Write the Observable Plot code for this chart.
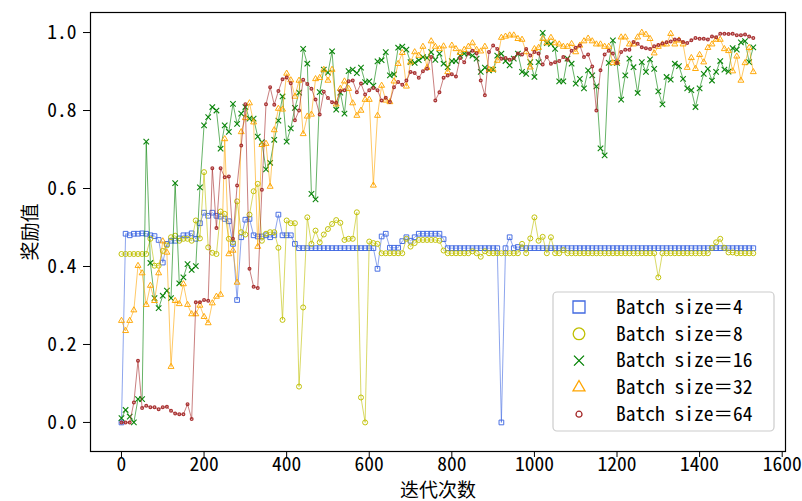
<!DOCTYPE html>
<html><head><meta charset="utf-8">
<script src="https://cdn.jsdelivr.net/npm/d3@7"></script>
<script src="https://cdn.jsdelivr.net/npm/@observablehq/plot@0.6"></script>
<style>body{margin:0;background:#fff;}</style>
</head><body><div id="chart"></div>
<script>
const iterations = [
0,10,20,30,40,50,60,70,80,90,100,110,120,130,140,150,160,170,180,190,
200,210,220,230,240,250,260,270,280,290,300,310,320,330,340,350,360,370,380,390,
400,410,420,430,440,450,460,470,480,490,500,510,520,530,540,550,560,570,580,590,
600,610,620,630,640,650,660,670,680,690,700,710,720,730,740,750,760,770,780,790,
800,810,820,830,840,850,860,870,880,890,900,910,920,930,940,950,960,970,980,990,
1000,1010,1020,1030,1040,1050,1060,1070,1080,1090,1100,1110,1120,1130,1140,1150,1160,1170,1180,1190,
1200,1210,1220,1230,1240,1250,1260,1270,1280,1290,1300,1310,1320,1330,1340,1350,1360,1370,1380,1390,
1400,1410,1420,1430,1440,1450,1460,1470,1480,1490,1500,1510,1520,1530];

const b4 = [
0.0,0.484,0.48,0.484,0.484,0.485,0.484,0.48,0.478,0.468,
0.41,0.458,0.466,0.466,0.472,0.48,0.48,0.485,0.471,0.511,
0.538,0.53,0.538,0.53,0.528,0.522,0.516,0.458,0.314,0.475,
0.52,0.522,0.48,0.477,0.477,0.48,0.475,0.48,0.533,0.48,
0.48,0.48,0.458,0.447,0.447,0.447,0.447,0.447,0.447,0.447,
0.447,0.447,0.447,0.447,0.447,0.447,0.447,0.447,0.447,0.447,
0.447,0.447,0.394,0.477,0.484,0.448,0.448,0.448,0.465,0.475,
0.466,0.475,0.484,0.484,0.484,0.484,0.484,0.484,0.47,0.447,
0.447,0.447,0.447,0.447,0.447,0.447,0.447,0.447,0.447,0.447,
0.447,0.447,0.0,0.447,0.475,0.447,0.45,0.447,0.447,0.447,
0.447,0.447,0.447,0.447,0.447,0.447,0.447,0.447,0.447,0.447,
0.447,0.447,0.447,0.447,0.447,0.447,0.447,0.447,0.447,0.447,
0.447,0.447,0.447,0.447,0.447,0.447,0.447,0.447,0.447,0.447,
0.447,0.447,0.447,0.447,0.447,0.447,0.447,0.447,0.447,0.447,
0.447,0.447,0.447,0.447,0.447,0.447,0.447,0.447,0.447,0.447,
0.447,0.447,0.447,0.447];

const b8 = [
0.432,0.432,0.432,0.432,0.432,0.432,0.432,0.471,0.402,0.402,
0.44,0.454,0.475,0.479,0.466,0.471,0.471,0.466,0.518,0.472,
0.642,0.449,0.435,0.432,0.541,0.535,0.471,0.462,0.567,0.488,
0.482,0.533,0.593,0.612,0.466,0.484,0.488,0.488,0.448,0.263,
0.518,0.511,0.511,0.092,0.295,0.526,0.458,0.492,0.462,0.482,
0.496,0.509,0.519,0.512,0.468,0.471,0.471,0.539,0.064,0.0,
0.464,0.46,0.458,0.434,0.434,0.434,0.434,0.434,0.434,0.471,
0.451,0.46,0.468,0.468,0.468,0.468,0.468,0.466,0.441,0.434,
0.434,0.434,0.434,0.434,0.434,0.439,0.434,0.425,0.439,0.434,
0.434,0.434,0.434,0.434,0.434,0.434,0.434,0.458,0.434,0.472,
0.526,0.466,0.476,0.434,0.475,0.434,0.434,0.442,0.434,0.434,
0.434,0.434,0.434,0.434,0.434,0.434,0.434,0.434,0.434,0.434,
0.434,0.434,0.434,0.434,0.434,0.434,0.434,0.434,0.434,0.434,
0.372,0.434,0.434,0.434,0.434,0.434,0.434,0.434,0.434,0.434,
0.434,0.434,0.434,0.448,0.462,0.471,0.448,0.436,0.436,0.434,
0.434,0.434,0.434,0.434];

const b16 = [
0.011,0.032,0.015,0.0,0.06,0.06,0.72,0.409,0.319,0.293,
0.325,0.338,0.319,0.614,0.357,0.372,0.406,0.391,0.401,0.603,
0.762,0.783,0.809,0.8,0.702,0.762,0.745,0.817,0.766,0.792,
0.809,0.779,0.779,0.733,0.719,0.649,0.666,0.725,0.774,0.836,
0.72,0.754,0.807,0.846,0.958,0.92,0.586,0.572,0.847,0.905,
0.897,0.952,0.802,0.846,0.792,0.901,0.905,0.896,0.91,0.873,
0.875,0.864,0.926,0.929,0.95,0.89,0.893,0.961,0.964,0.956,
0.924,0.922,0.929,0.937,0.935,0.95,0.93,0.946,0.92,0.911,
0.927,0.927,0.941,0.946,0.946,0.941,0.933,0.899,0.91,0.903,
0.905,0.941,0.946,0.927,0.916,0.933,0.946,0.899,0.894,0.924,
0.886,0.924,0.999,0.973,0.971,0.958,0.875,0.875,0.933,0.92,
0.869,0.881,0.857,0.903,0.89,0.862,0.703,0.685,0.922,0.98,
0.922,0.828,0.89,0.933,0.911,0.845,0.924,0.899,0.931,0.907,
0.849,0.816,0.886,0.879,0.92,0.914,0.881,0.857,0.852,0.809,
0.857,0.894,0.907,0.877,0.899,0.927,0.905,0.9,0.96,0.956,
0.975,0.978,0.924,0.962];

const b32 = [
0.261,0.235,0.261,0.288,0.402,0.383,0.302,0.351,0.312,0.383,
0.465,0.436,0.143,0.312,0.304,0.355,0.302,0.278,0.278,0.3,
0.271,0.255,0.306,0.323,0.328,0.727,0.432,0.441,0.359,0.745,
0.781,0.819,0.77,0.451,0.712,0.715,0.605,0.75,0.805,0.803,
0.895,0.878,0.836,0.877,0.74,0.785,0.79,0.881,0.884,0.905,
0.877,0.905,0.816,0.856,0.875,0.856,0.819,0.787,0.8,0.828,
0.828,0.608,0.787,0.864,0.826,0.822,0.875,0.92,0.948,0.862,
0.924,0.95,0.941,0.964,0.91,0.978,0.964,0.958,0.965,0.899,
0.967,0.958,0.948,0.956,0.964,0.973,0.956,0.952,0.964,0.905,
0.905,0.928,0.987,0.99,0.993,0.993,0.984,0.982,0.95,0.911,
0.958,0.961,0.984,0.973,0.987,0.973,0.97,0.964,0.964,0.971,
0.95,0.967,0.978,0.985,0.978,0.97,0.97,0.964,0.964,0.922,
0.924,0.988,0.988,0.97,0.97,0.988,1.0,0.995,0.984,0.947,
0.964,0.97,0.97,0.997,0.97,0.98,0.97,0.91,0.935,0.907,
0.943,0.924,0.961,0.97,0.982,0.982,0.958,0.953,0.901,0.939,
0.877,0.922,0.961,0.899];

const b64 = [
0.0,0.0,0.0,0.051,0.158,0.037,0.043,0.039,0.039,0.034,
0.039,0.04,0.03,0.023,0.021,0.021,0.047,0.009,0.308,0.308,
0.314,0.312,0.652,0.499,0.652,0.629,0.631,0.471,0.608,0.71,
0.816,0.394,0.348,0.345,0.597,0.816,0.86,0.815,0.85,0.88,
0.885,0.87,0.775,0.8,0.879,0.868,0.856,0.828,0.79,0.848,
0.832,0.821,0.82,0.85,0.852,0.875,0.877,0.847,0.869,0.841,
0.852,0.858,0.852,0.826,0.833,0.822,0.86,0.873,0.866,0.877,
0.899,0.896,0.884,0.901,0.907,0.937,0.826,0.847,0.884,0.89,
0.893,0.887,0.935,0.924,0.946,0.953,0.947,0.877,0.839,0.95,
0.967,0.958,0.933,0.935,0.93,0.935,0.946,0.944,0.958,0.941,
0.95,0.946,0.918,0.937,0.92,0.924,0.927,0.937,0.93,0.953,
0.961,0.967,0.937,0.944,0.913,0.8,0.903,0.944,0.953,0.946,
0.922,0.95,0.956,0.956,0.976,0.971,0.962,0.96,0.958,0.965,
0.968,0.972,0.975,0.977,0.982,0.982,0.976,0.973,0.98,0.986,
0.984,0.984,0.982,0.99,0.988,0.997,0.997,0.996,0.997,0.993,
0.993,0.995,0.99,0.986];

const seriesNames = ["Batch size＝4","Batch size＝8","Batch size＝16","Batch size＝32","Batch size＝64"];
const seriesValues = [b4, b8, b16, b32, b64];
const seriesColors = ["#4169e1","#bfbf00","#008000","#ffa500","#a52a2a"];
const seriesSymbols = ["square","circle","times","triangle","circle"];
const xTicks = [0,200,400,600,800,1000,1200,1400,1600];
const yTicks = [0,0.2,0.4,0.6,0.8,1.0];
const xLabel = "迭代次数";
const yLabel = "奖励值";

function textWidth(font, s){const c=document.createElement("canvas").getContext("2d");c.font=font;return c.measureText(s).width;}
const hasNotoMono = Math.abs(textWidth("20px 'Noto Sans Mono CJK SC', serif","iiiiiiiiii")-100)<2 &&
                    Math.abs(textWidth("20px 'Noto Sans Mono CJK SC', serif","MMMMMMMMMM")-100)<2;
const monoFamily = hasNotoMono ? "'Noto Sans Mono CJK SC'" : "'DejaVu Sans Mono','Noto Sans CJK SC'";
const monoSize = hasNotoMono ? 19.5 : 16.3;
const cjkFamily = "'Noto Sans CJK SC'";

const dotR = [2.65, 2.5, 2.6, 2.2, 1.35];
const dotW = [1, 1, 1.1, 1, 1.3];

const marks = [
  Plot.frame({stroke:"#000", strokeWidth:1.2}),
  Plot.axisX({ticks: xTicks, tickSize: 6, tickPadding: 0, label: null, tickFormat: d => String(d)}),
  Plot.axisY({ticks: yTicks, tickSize: 7, tickPadding: 7, label: null, tickFormat: d => d.toFixed(1)})
];
seriesValues.forEach((vals, k) => {
  const rows = vals.map((v, i) => ({x: iterations[i], y: v}));
  marks.push(Plot.line(rows, {x:"x", y:"y", stroke: seriesColors[k], strokeWidth: 1, strokeOpacity: 0.6}));
  marks.push(Plot.dot(rows, {x:"x", y:"y", stroke: seriesColors[k], fill:"none", symbol: seriesSymbols[k], r: dotR[k], strokeWidth: dotW[k], strokeOpacity: 0.95}));
});
marks.push(Plot.text([xLabel], {frameAnchor:"bottom", dy: 39, text: d=>d, textAnchor:"middle", lineAnchor:"middle", fontFamily: cjkFamily, fontSize: 19, fill:"#000"}));
marks.push(Plot.text([yLabel], {frameAnchor:"left", dx: -60, rotate: -90, text: d=>d, textAnchor:"middle", lineAnchor:"middle", fontFamily: cjkFamily, fontSize: 19, fill:"#000"}));

const chart = Plot.plot({
  width: 802, height: 501,
  marginLeft: 90, marginRight: 17, marginTop: 12, marginBottom: 50,
  x: {domain: [-75, 1608]},
  y: {domain: [-0.0745, 1.0514]},
  style: {fontFamily: monoFamily, fontSize: monoSize + "px", color: "#000", background: "#fff"},
  marks
});
document.getElementById("chart").appendChild(chart);

// legend box inside the frame, lower right
const svg = d3.select(chart);
const frameRight = 802 - 17, frameBottom = 501 - 50;
const bw = 221, bh = 139;
const bx = frameRight - 11 - bw, by = frameBottom - 20 - bh;
const lg = svg.append("g").attr("text-anchor", "start");
lg.append("rect").attr("x", bx).attr("y", by).attr("width", bw).attr("height", bh)
  .attr("rx", 4).attr("fill", "#fff").attr("fill-opacity", 0.8).attr("stroke", "#cccccc").attr("stroke-width", 1.2);
const legSym = [d3.symbolSquare, d3.symbolCircle, d3.symbolTimes, d3.symbolTriangle, d3.symbolCircle];
const legSize = [144, 107, 67, 62, 28];
seriesNames.forEach((name, k) => {
  const cy = by + 15 + k * 26.8;
  lg.append("path").attr("transform", `translate(${bx + 26},${cy})`)
    .attr("d", d3.symbol(legSym[k], legSize[k])())
    .attr("fill", "none").attr("stroke", seriesColors[k]).attr("stroke-width", 1.3);
  lg.append("text").attr("x", bx + 63).attr("y", cy).attr("dy", "0.35em")
    .attr("text-anchor", "start")
    .attr("font-family", monoFamily).attr("font-size", monoSize).attr("fill", "#000")
    .text(name);
});
</script>
</body></html>
